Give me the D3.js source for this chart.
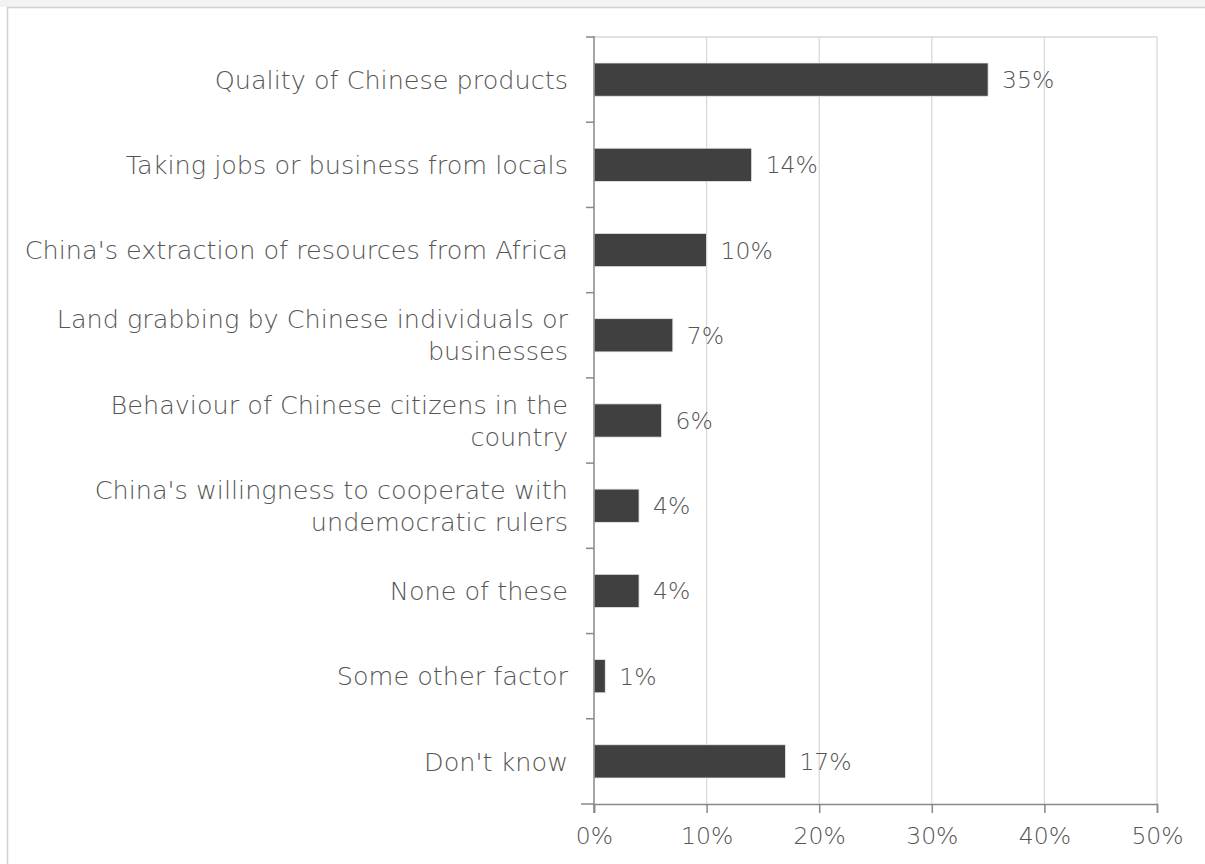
<!DOCTYPE html>
<html><head><meta charset="utf-8">
<script src="https://cdn.jsdelivr.net/npm/d3@7"></script>
<style>
html,body{margin:0;padding:0;background:#fff;}
svg{display:block;}
text{font-family:"DejaVu Sans","Noto Sans",sans-serif;fill:#555555;}
</style></head>
<body><svg id="chart" width="1205" height="864"></svg>
<script>
const categories = [
  "Quality of Chinese products",
  "Taking jobs or business from locals",
  "China's extraction of resources from Africa",
  "Land grabbing by Chinese individuals or\nbusinesses",
  "Behaviour of Chinese citizens in the\ncountry",
  "China's willingness to cooperate with\nundemocratic rulers",
  "None of these",
  "Some other factor",
  "Don't know"
];
const values = [35, 14, 10, 7, 6, 4, 4, 1, 17];
const xTicks = [0, 10, 20, 30, 40, 50];

const svg = d3.select("#chart");
const W = 1205, H = 864;
const m = {left: 594, right: 48, top: 37, bottom: 60};
const FS = 23.5, FSC = 25.5, FW = 300;

// faint header strip & outer frame
svg.append("rect").attr("x",0).attr("y",0).attr("width",W).attr("height",7).attr("fill","#f5f3f1");
svg.append("path").attr("d",`M7.5,${H}V7.5H${W}`).attr("fill","none").attr("stroke","#d0d0d0").attr("stroke-width",1.5);

const x = d3.scaleLinear().domain([0,50]).range([m.left, W - m.right]);
const y = d3.scaleBand().domain(categories).range([m.top, H - m.bottom]).paddingInner(0.61).paddingOuter(0.305);

// gridlines
svg.append("g").selectAll("line").data(xTicks.slice(1)).join("line")
  .attr("x1",d=>x(d)).attr("x2",d=>x(d)).attr("y1",m.top).attr("y2",H-m.bottom)
  .attr("stroke","#d9d9d9").attr("stroke-width",1.3);
svg.append("line").attr("x1",m.left).attr("x2",x(50)).attr("y1",m.top).attr("y2",m.top)
  .attr("stroke","#d9d9d9").attr("stroke-width",1.3);

// bars
svg.append("g").selectAll("rect").data(values).join("rect")
  .attr("x",x(0)).attr("y",(d,i)=>y(categories[i]))
  .attr("width",d=>x(d)-x(0)).attr("height",y.bandwidth())
  .attr("fill","#404040").attr("stroke","#e8e8e8").attr("stroke-width",0.8);

// value labels
svg.append("g").selectAll("text").data(values).join("text")
  .attr("x",d=>x(d)+14).attr("y",(d,i)=>y(categories[i])+y.bandwidth()/2)
  .attr("dy","0.36em").attr("font-size",FS).attr("font-weight",FW).text(d=>d+"%");

// y axis with boundary ticks
const bounds = d3.range(categories.length+1).map(i => m.top + i*(H-m.top-m.bottom)/categories.length);
const ax = svg.append("g").attr("stroke","#898989").attr("stroke-width",1.5);
ax.append("line").attr("x1",m.left).attr("x2",m.left).attr("y1",m.top-1).attr("y2",H-m.bottom+9);
ax.selectAll("line.t").data(bounds).join("line").attr("class","t")
  .attr("x1",(d,i)=>i===bounds.length-1? m.left-13 : m.left-8).attr("x2",m.left).attr("y1",d=>d).attr("y2",d=>d);

// x axis
const xAxis = d3.axisBottom(x).tickValues(xTicks).tickFormat(d=>d+"%").tickSize(9).tickPadding(14);
const gx = svg.append("g").attr("transform",`translate(0,${H-m.bottom})`).call(xAxis);
gx.select(".domain").attr("stroke","#898989").attr("stroke-width",1.5);
gx.selectAll(".tick line").attr("stroke","#898989").attr("stroke-width",1.5);
gx.selectAll(".tick text").attr("font-size",FS).attr("font-weight",FW).attr("fill","#555555")
  .attr("font-family","'DejaVu Sans', 'Noto Sans', sans-serif");

// category labels
const lab = svg.append("g");
categories.forEach((c,i)=>{
  const lines = c.split("\n");
  const cy = y(c) + y.bandwidth()/2;
  const lh = 32;
  const t = lab.append("text").attr("text-anchor","end").attr("font-size",FSC).attr("font-weight",FW);
  lines.forEach((ln,j)=>{
    t.append("tspan").attr("x",m.left-26)
      .attr("y", cy + (j - (lines.length-1)/2)*lh).attr("dy","0.36em").text(ln);
  });
});
</script></body></html>
